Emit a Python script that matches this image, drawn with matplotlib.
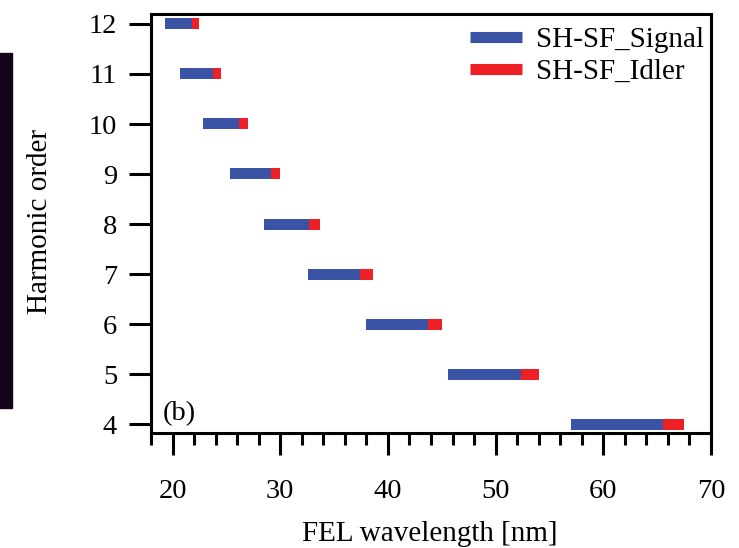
import matplotlib
matplotlib.use("Agg")
import matplotlib.pyplot as plt
from matplotlib.patches import Rectangle
from matplotlib.lines import Line2D
from matplotlib.ticker import MultipleLocator

# Data
harmonic_order = [4, 5, 6, 7, 8, 9, 10, 11, 12]
signal_start = [57.0, 45.6, 38.0, 32.6, 28.5, 25.3, 22.8, 20.7, 19.3]
signal_end = [65.5, 52.4, 43.7, 37.4, 32.7, 29.1, 26.2, 23.8, 21.8]
idler_end = [67.5, 54.0, 45.0, 38.6, 33.7, 30.0, 27.0, 24.5, 22.5]
x_ticks = [20, 30, 40, 50, 60, 70]
y_ticks = [4, 5, 6, 7, 8, 9, 10, 11, 12]

plt.rcParams['font.family'] = ['Liberation Serif', 'DejaVu Serif']

fig = plt.figure(figsize=(7.39, 5.48), dpi=100)
W, H = 739, 548
ax = fig.add_axes([151 / W, 1 - 433 / H, (711 - 151) / W, (433 - 14) / H])

blue = '#3a53a4'
red = '#ee1f25'
bar_h = 0.22

signal_w = [e - s for s, e in zip(signal_start, signal_end)]
idler_w = [i - e for e, i in zip(signal_end, idler_end)]
ax.barh(harmonic_order, signal_w, left=signal_start, height=bar_h,
        color=blue, edgecolor='none', label='SH-SF_Signal')
ax.barh(harmonic_order, idler_w, left=signal_end, height=bar_h,
        color=red, edgecolor='none', label='SH-SF_Idler')

ax.set_xlim(18, 70)
ax.set_ylim(3.82, 12.2)
ax.set_xticks(x_ticks)
ax.set_yticks(y_ticks)
ax.xaxis.set_minor_locator(MultipleLocator(2))

for s in ax.spines.values():
    s.set_linewidth(2.2)
ax.tick_params(axis='both', which='major', direction='out', width=2.2,
               length=15.8, labelsize=20.5)
ax.tick_params(axis='x', which='major', pad=17)
ax.tick_params(axis='x', which='minor', direction='out', width=2.2, length=8.6)
ax.tick_params(axis='y', which='major', pad=8.6)

ax.set_xlabel('FEL wavelength [nm]', fontsize=21)
ax.set_ylabel('Harmonic order', fontsize=21)
ax.xaxis.set_label_coords(0.498, -0.21)
ax.yaxis.set_label_coords(-0.175, 0.504)

handles = [Line2D([0], [0], color=blue, lw=8, solid_capstyle='butt'),
           Line2D([0], [0], color=red, lw=8, solid_capstyle='butt')]
ax.legend(handles, ['SH-SF_Signal', 'SH-SF_Idler'], loc='upper right',
          frameon=False, fontsize=21, handlelength=1.8, handletextpad=0.46,
          labelspacing=0.2, borderaxespad=0.0, bbox_to_anchor=(1.008, 0.998))

ax.text(0.021, 0.03, '(b)', transform=ax.transAxes, fontsize=20.5,
        ha='left', va='baseline')

# dark strip at the left edge of the reference image
fig.patches.append(Rectangle((0, 1 - 408 / H), 12 / W, (408 - 53) / H,
                             transform=fig.transFigure, color='#14051a',
                             zorder=0))

fig.savefig('out.png', dpi=100)
